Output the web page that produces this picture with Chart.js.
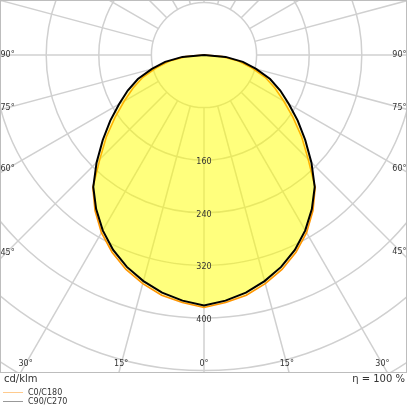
<!DOCTYPE html>
<html><head><meta charset="utf-8">
<script src="https://cdn.jsdelivr.net/npm/chart.js@4.4.1/dist/chart.umd.min.js"></script>
<style>
html,body{margin:0;padding:0;background:#fff;}
#wrap{position:relative;width:407px;height:407px;overflow:hidden;}
canvas{position:absolute;left:0;top:0;}
.t{position:absolute;font-family:"DejaVu Sans",sans-serif;color:#333;white-space:nowrap;line-height:1;}
.ln{position:absolute;height:0;width:20px;}
</style></head><body>
<div id="wrap">
<canvas id="c" width="407" height="407"></canvas>
<div class="t" style="left:4px;top:374px;font-size:10px;">cd/klm</div>
<div class="t" style="right:2px;top:374px;font-size:10px;">η = 100 %</div>
<div class="ln" style="left:3px;top:392px;border-top:1.5px solid rgba(255,160,50,0.55);"></div>
<div class="t" style="left:28px;top:389px;font-size:8px;">C0/C180</div>
<div class="ln" style="left:3px;top:401px;border-top:1.5px solid #999;"></div>
<div class="t" style="left:28px;top:397.5px;font-size:8px;">C90/C270</div>
</div>
<script>
// gamma angles (deg, 0 = nadir) and intensities (cd/klm)
const gammaAngles = [0,5,10,15,20,25,30,35,40,45,50,55,60,65,70,75,80,85,90];
const c0c180 =  [384,378,371,360,347,331,312,289,263,224,194,165,140,119,99,75,53,28,0];
const c90c270 = [381,375,367,356,343,327,308,286,262,231,201,174,149,128,107,82,60,33,0];
const ringValues = [80,160,240,320,400,480,560];
const ringLabels = [160,240,320,400];
const angleLabelValues = [0,15,30,45,60,75,90];
const angleStep = 15;

function toPoints(vals){
  const pts = [];
  for (let i = gammaAngles.length-1; i >= 0; i--) {
    const t = gammaAngles[i]*Math.PI/180;
    pts.push({x: -vals[i]*Math.sin(t), y: -vals[i]*Math.cos(t)});
  }
  for (let i = 1; i < gammaAngles.length; i++) {
    const t = gammaAngles[i]*Math.PI/180;
    pts.push({x: vals[i]*Math.sin(t), y: -vals[i]*Math.cos(t)});
  }
  return pts;
}

const polarGrid = {
  id: 'polarGrid',
  beforeDatasetsDraw(chart){
    const {ctx, chartArea: a, scales: {x, y}} = chart;
    const cx = x.getPixelForValue(0), cy = y.getPixelForValue(0);
    ctx.save();
    ctx.beginPath(); ctx.rect(a.left, a.top, a.right-a.left, a.bottom-a.top); ctx.clip();
    ctx.strokeStyle = '#d0d0d0'; ctx.lineWidth = 1.5;
    ringValues.forEach(v => {
      const r = x.getPixelForValue(v) - cx;
      ctx.beginPath(); ctx.arc(cx, cy, r, 0, 2*Math.PI); ctx.stroke();
    });
    const r0v = ringValues[0], r1v = 2000;
    for (let d = 0; d < 360; d += angleStep) {
      const t = d*Math.PI/180;
      ctx.beginPath();
      ctx.moveTo(x.getPixelForValue(r0v*Math.sin(t)), y.getPixelForValue(-r0v*Math.cos(t)));
      ctx.lineTo(x.getPixelForValue(r1v*Math.sin(t)), y.getPixelForValue(-r1v*Math.cos(t)));
      ctx.stroke();
    }
    ctx.restore();
  },
  afterDatasetsDraw(chart){
    const {ctx, chartArea: a, scales: {x, y}} = chart;
    const cx = x.getPixelForValue(0), cy = y.getPixelForValue(0);
    ctx.save();
    ctx.fillStyle = '#333';
    ctx.font = '8px "DejaVu Sans"';
    ctx.textAlign = 'center'; ctx.textBaseline = 'middle';
    ringLabels.forEach(v => {
      ctx.fillText(String(v), cx, y.getPixelForValue(-v) + 2);
    });
    // angle labels where rays meet an inset frame
    const L = a.left + 6, R = a.right - 6, B = a.bottom - 8;
    angleLabelValues.forEach(d => {
      [-1, 1].forEach(side => {
        if (d === 0 && side === 1) return;
        const t = d*Math.PI/180;
        const dx = side*Math.sin(t), dy = Math.cos(t);
        let tb = dy > 1e-6 ? (B - cy)/dy : Infinity;
        let ts = dx < -1e-6 ? (L - cx)/dx : (dx > 1e-6 ? (R - cx)/dx : Infinity);
        const txt = d + '°';
        if (tb <= ts) {
          ctx.textAlign = 'center';
          ctx.fillText(txt, cx + dx*tb, B);
        } else {
          const py = cy + dy*ts;
          if (side < 0) { ctx.textAlign = 'left'; ctx.fillText(txt, a.left + 0.5, py); }
          else { ctx.textAlign = 'right'; ctx.fillText(txt, a.right - 0.5, py); }
        }
      });
    });
    ctx.strokeStyle = '#bdbdbd'; ctx.lineWidth = 1;
    ctx.strokeRect(a.left + 0.5, a.top + 0.5, a.right - a.left - 1, a.bottom - a.top);
    ctx.restore();
  }
};

const pxPerUnit = 0.6575;
new Chart(document.getElementById('c'), {
  type: 'scatter',
  data: {
    datasets: [
      {label: 'C90/C270', data: toPoints(c90c270), showLine: true, borderColor: '#000000', borderWidth: 2,
       backgroundColor: 'rgba(255,255,0,0.3)', fill: 'shape', pointRadius: 0, tension: 0, order: 0},
      {label: 'C0/C180', data: toPoints(c0c180), showLine: true, borderColor: '#ff9500', borderWidth: 1.6,
       backgroundColor: 'rgba(255,255,0,0.3)', fill: 'shape', pointRadius: 0, tension: 0, order: 1}
    ]
  },
  options: {
    responsive: false, animation: false, devicePixelRatio: window.devicePixelRatio || 1,
    layout: {padding: {left: 0, right: 0, top: 0, bottom: 35}},
    scales: {
      x: {type: 'linear', min: -204/pxPerUnit, max: 203/pxPerUnit, display: false},
      y: {type: 'linear', min: -317/pxPerUnit, max: 55/pxPerUnit, display: false}
    },
    plugins: {legend: {display: false}, tooltip: {enabled: false}}
  },
  plugins: [polarGrid]
});
</script>
</body></html>
